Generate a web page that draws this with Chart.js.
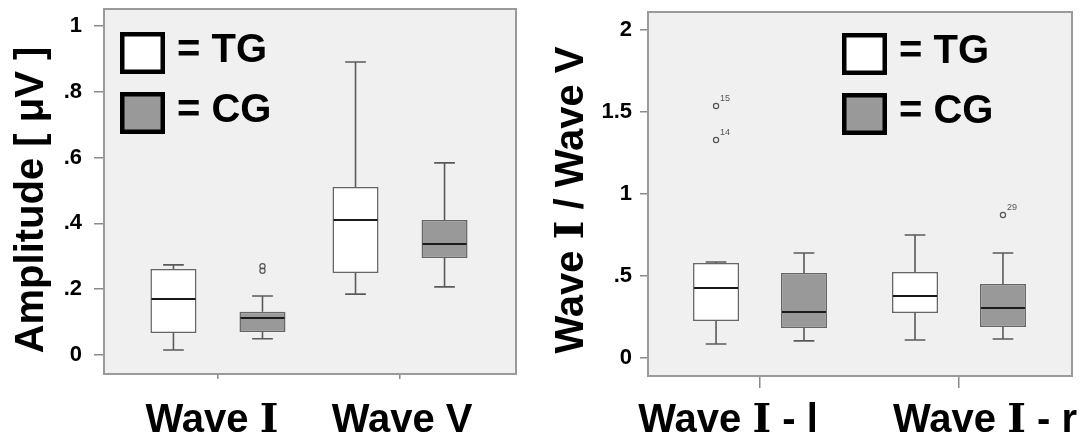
<!DOCTYPE html>
<html>
<head>
<meta charset="utf-8">
<script src="https://cdn.jsdelivr.net/npm/chart.js@4/dist/chart.umd.min.js"></script>
<style>
  html, body { margin: 0; padding: 0; background: #fff; }
  .wrap { position: relative; width: 1085px; height: 439px; }
  #left { position: absolute; left: 0; top: 0; }
  #right { position: absolute; left: 540px; top: 0; }
</style>
</head>
<body>
<div class="wrap">
  <canvas id="left" width="540" height="439"></canvas>
  <canvas id="right" width="545" height="439"></canvas>
</div>
<script>
// groups shown in both panels
const groups = ['TG', 'CG'];
const groupFill = ['#ffffff', '#999999'];

// box summaries: [lower whisker, Q1, median, Q3, upper whisker]
const ampCategories = ['Wave Ⅰ', 'Wave V'];
const ampTG = [[0.015, 0.067, 0.170, 0.261, 0.274], [0.185, 0.249, 0.410, 0.511, 0.891]];
const ampCG = [[0.049, 0.070, 0.112, 0.131, 0.179], [0.207, 0.295, 0.337, 0.410, 0.584]];
const ampTGOutliers = [[], []];
const ampCGOutliers = [[0.270, 0.256], []];
const ampTicks = [0, 0.2, 0.4, 0.6, 0.8, 1];
const ampTickLabels = ['0', '.2', '.4', '.6', '.8', '1'];

const ratioCategories = ['Wave Ⅰ - l', 'Wave Ⅰ - r'];
const ratioTG = [[0.085, 0.226, 0.427, 0.579, 0.585], [0.110, 0.274, 0.378, 0.524, 0.750]];
const ratioCG = [[0.104, 0.183, 0.280, 0.518, 0.640], [0.116, 0.189, 0.305, 0.451, 0.640]];
const ratioTGOutliers = [[1.537, 1.329], []];
const ratioTGOutlierIds = [['15', '14'], []];
const ratioCGOutliers = [[], [0.872]];
const ratioCGOutlierIds = [[], ['29']];
const ratioTicks = [0, 0.5, 1, 1.5, 2];
const ratioTickLabels = ['0', '.5', '1', '1.5', '2'];

const FONT = "'Liberation Sans', Arial, sans-serif";
const NUMERAL_FONT = "'DejaVu Serif', 'Liberation Serif', serif";

// draw text centred on (x, y), the roman numeral taken from a serif font
function drawMixedText(ctx, text, x, y, size) {
  const parts = text.split(/(Ⅰ)/).filter(s => s.length);
  const fontFor = s => s === 'Ⅰ' ? `bold ${size}px ${NUMERAL_FONT}` : `bold ${size}px ${FONT}`;
  const widths = parts.map(s => { ctx.font = fontFor(s); return ctx.measureText(s).width; });
  let cx = x - widths.reduce((a, b) => a + b, 0) / 2;
  ctx.textAlign = 'left';
  ctx.textBaseline = 'alphabetic';
  parts.forEach((s, i) => {
    ctx.font = fontFor(s);
    ctx.fillText(s, cx, y);
    cx += widths[i];
  });
}

// draws background, whiskers, medians, outliers, frame, legend and text labels
const boxPlotPlugin = {
  id: 'boxPlot',
  beforeDraw(chart) {
    const { ctx, chartArea: a } = chart;
    ctx.save();
    ctx.fillStyle = '#f0f0f0';
    ctx.fillRect(a.left, a.top, a.right - a.left, a.bottom - a.top);
    ctx.restore();
  },
  afterDatasetsDraw(chart, args, opts) {
    const { ctx, chartArea: a } = chart;
    const xs = chart.scales.x;
    const ys = chart.scales.y;
    const py = v => ys.getPixelForValue(v);
    ctx.save();

    chart.data.datasets.forEach((ds, di) => {
      const meta = chart.getDatasetMeta(di);
      meta.data.forEach((bar, i) => {
        const [lo, q1, med, q3, hi] = ds.stats[i];
        const cx = bar.x;
        const half = bar.width / 2;
        const cap = bar.width * 0.45 / 2;

        ctx.strokeStyle = '#5a5a5a';
        ctx.lineWidth = 1.6;
        ctx.beginPath();
        ctx.moveTo(cx, py(q3)); ctx.lineTo(cx, py(hi));
        ctx.moveTo(cx - cap, py(hi)); ctx.lineTo(cx + cap, py(hi));
        ctx.moveTo(cx, py(q1)); ctx.lineTo(cx, py(lo));
        ctx.moveTo(cx - cap, py(lo)); ctx.lineTo(cx + cap, py(lo));
        ctx.stroke();

        ctx.strokeStyle = '#1a1a1a';
        ctx.lineWidth = 2;
        ctx.beginPath();
        ctx.moveTo(cx - half + 1, py(med)); ctx.lineTo(cx + half - 1, py(med));
        ctx.stroke();

        const outs = (ds.outliers && ds.outliers[i]) || [];
        outs.forEach((v, k) => {
          ctx.strokeStyle = '#555';
          ctx.lineWidth = 1.2;
          ctx.beginPath();
          ctx.arc(cx, py(v), 2.6, 0, Math.PI * 2);
          ctx.stroke();
          const id = ds.outlierIds && ds.outlierIds[i] && ds.outlierIds[i][k];
          if (id) {
            ctx.fillStyle = '#555';
            ctx.font = `9px ${FONT}`;
            ctx.textAlign = 'left';
            ctx.textBaseline = 'alphabetic';
            ctx.fillText(id, cx + 4, py(v) - 5);
          }
        });
      });
    });

    // plot frame
    ctx.strokeStyle = '#9a9a9a';
    ctx.lineWidth = 2;
    ctx.strokeRect(a.left, a.top, a.right - a.left, a.bottom - a.top);

    // legend inside the plot
    groups.forEach((g, k) => {
      const bx = opts.legendX;
      const by = opts.legendY + k * 60;
      ctx.fillStyle = groupFill[k];
      ctx.fillRect(bx, by, 45, 42);
      ctx.strokeStyle = '#000';
      ctx.lineWidth = 4.5;
      ctx.strokeRect(bx + 2.25, by + 2.25, 45 - 4.5, 42 - 4.5);
      ctx.fillStyle = '#000';
      ctx.font = `bold 40px ${FONT}`;
      ctx.textAlign = 'left';
      ctx.textBaseline = 'middle';
      ctx.fillText('= ' + g, bx + 57, by + 19);
    });

    // category labels under the axis
    ctx.fillStyle = '#000';
    opts.categories.forEach((c, i) => {
      drawMixedText(ctx, c, xs.getPixelForValue(i + 1) + opts.labelDx[i], opts.labelY, 40);
    });

    // rotated value-axis title
    ctx.save();
    ctx.translate(opts.titleX, opts.titleY);
    ctx.rotate(-Math.PI / 2);
    drawMixedText(ctx, opts.title, 0, 0, 40);
    ctx.restore();

    ctx.restore();
  }
};

function makeBoxChart(id, p) {
  const dataset = (name, stats, outliers, ids, fill) => ({
    label: name,
    data: stats.map((s, i) => ({ x: i + 1, y: [s[1], s[3]] })),
    stats: stats,
    outliers: outliers,
    outlierIds: ids,
    backgroundColor: fill,
    borderColor: '#666',
    borderWidth: 1.5,
    borderSkipped: false,
    categoryPercentage: p.catPct,
    barPercentage: p.barPct
  });

  return new Chart(document.getElementById(id), {
    type: 'bar',
    data: {
      datasets: [
        dataset(groups[0], p.tg, p.tgOut, p.tgIds, groupFill[0]),
        dataset(groups[1], p.cg, p.cgOut, p.cgIds, groupFill[1])
      ]
    },
    options: {
      responsive: false,
      animation: false,
      events: [],
      layout: { padding: { top: p.top, right: p.right, left: 0, bottom: 0 } },
      scales: {
        x: {
          type: 'linear',
          min: p.xMin,
          max: p.xMax,
          offset: false,
          grid: { display: true, drawOnChartArea: false, offset: false, tickLength: p.xTick, color: '#8a8a8a', lineWidth: 1.5 },
          border: { display: false },
          ticks: { display: false },
          afterBuildTicks: s => { s.ticks = p.categories.map((c, i) => ({ value: i + 1 })); },
          afterFit: s => { s.height = p.xHeight; s.paddingLeft = 0; s.paddingRight = 0; }
        },
        y: {
          min: p.yMin,
          max: p.yMax,
          grid: { drawOnChartArea: false, tickLength: p.yTick, color: '#8a8a8a', lineWidth: 1.5 },
          border: { display: false },
          ticks: {
            color: '#000',
            padding: p.yPad,
            font: { family: FONT, size: 22, weight: 'bold' },
            callback: (v, i) => p.tickLabels[i]
          },
          afterBuildTicks: s => { s.ticks = p.ticks.map(v => ({ value: v })); },
          afterFit: s => { s.width = p.yWidth; s.paddingTop = 0; s.paddingBottom = 0; }
        }
      },
      plugins: {
        legend: { display: false },
        tooltip: { enabled: false },
        boxPlot: {
          categories: p.categories,
          labelDx: p.labelDx,
          labelY: 432,
          legendX: p.legendX,
          legendY: p.legendY,
          title: p.title,
          titleX: 43,
          titleY: 200
        }
      }
    },
    plugins: [boxPlotPlugin]
  });
}

makeBoxChart('left', {
  categories: ampCategories,
  tg: ampTG, cg: ampCG,
  tgOut: ampTGOutliers, cgOut: ampCGOutliers,
  tgIds: [[], []], cgIds: [[], []],
  ticks: ampTicks, tickLabels: ampTickLabels,
  title: 'Amplitude [ μV ]',
  yMin: -0.058, yMax: 1.052,
  xMin: 0.374, xMax: 2.637,
  catPct: 0.978, barPct: 0.517,
  top: 9, right: 24, yWidth: 104, xHeight: 65,
  yTick: 10, yPad: 12, xTick: 5,
  labelDx: [-6, 2],
  legendX: 120, legendY: 32
});

makeBoxChart('right', {
  categories: ratioCategories,
  tg: ratioTG, cg: ratioCG,
  tgOut: ratioTGOutliers, cgOut: ratioCGOutliers,
  tgIds: ratioTGOutlierIds, cgIds: ratioCGOutlierIds,
  ticks: ratioTicks, tickLabels: ratioTickLabels,
  title: 'Wave Ⅰ / Wave V',
  yMin: -0.110, yMax: 2.110,
  xMin: 0.437, xMax: 2.568,
  catPct: 0.884, barPct: 0.523,
  top: 12, right: 13, yWidth: 108, xHeight: 63,
  yTick: 8, yPad: 8, xTick: 12,
  labelDx: [-32, 26],
  legendX: 302, legendY: 33
});
</script>
</body>
</html>
